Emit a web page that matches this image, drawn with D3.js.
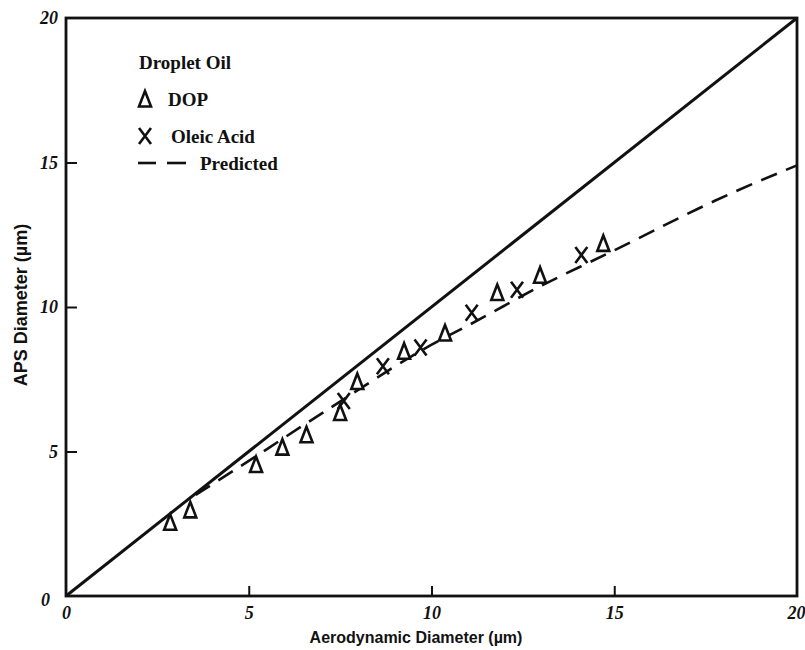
<!DOCTYPE html>
<html>
<head>
<meta charset="utf-8">
<script src="https://cdn.jsdelivr.net/npm/d3@7"></script>
<style>
  html, body { margin: 0; padding: 0; background: #fff; }
  svg { display: block; }
  text { font-family: "Liberation Serif", "DejaVu Serif", serif; fill: #111; }
  .title { font-family: "Liberation Sans", "DejaVu Sans", sans-serif; font-weight: bold; }
</style>
</head>
<body>
<svg id="chart" width="805" height="650"></svg>
<script>
// Measured APS diameter vs aerodynamic diameter (µm)
const dopX = [2.85, 3.4, 5.2, 5.92, 6.58, 7.5, 7.97, 9.25, 10.37, 11.8, 12.97, 14.7];
const dopY = [2.55, 2.98, 4.55, 5.15, 5.58, 6.35, 7.42, 8.47, 9.1, 10.5, 11.1, 12.2];
const oleicX = [7.6, 8.67, 9.7, 11.1, 12.34, 14.1];
const oleicY = [6.75, 7.95, 8.6, 9.8, 10.6, 11.8];
// Predicted response curve
const predX = [3.55, 4.5, 5.5, 6.5, 7.5, 8.8, 10, 11, 12, 13, 14, 15.4, 17.8, 20];
const predY = [3.5, 4.27, 5.08, 5.92, 6.72, 7.8, 8.72, 9.35, 10.05, 10.75, 11.35, 12.2, 13.75, 14.9];
// 1:1 reference line
const unityX = [0, 20];
const unityY = [0, 20];
const xTicks = [0, 5, 10, 15, 20];
const yTicks = [0, 5, 10, 15, 20];

const svg = d3.select("#chart");
const m = { left: 66, right: 797, top: 18, bottom: 596 };
const x = d3.scaleLinear().domain([0, 20]).range([m.left, m.right]);
const y = d3.scaleLinear().domain([0, 20]).range([m.bottom, m.top]);

// Axes with short inward ticks
const xAxis = svg.append("g").attr("transform", `translate(0,${m.bottom})`)
  .call(d3.axisBottom(x).tickValues(xTicks).tickSize(-10).tickPadding(10).tickFormat(d3.format("d")));
const yAxis = svg.append("g").attr("transform", `translate(${m.left},0)`)
  .call(d3.axisLeft(y).tickValues(yTicks).tickSize(-11).tickPadding(8).tickFormat(d3.format("d")));
[xAxis, yAxis].forEach(g => {
  g.select(".domain").remove();
  g.selectAll(".tick line").attr("stroke", "#111").attr("stroke-width", 2);
  g.selectAll(".tick text").style("font-size", "18px").style("font-style", "italic")
    .style("font-weight", "bold").attr("fill", "#111");
});
// End ticks coincide with the frame
xAxis.selectAll(".tick").filter(d => d === 0 || d === 20).select("line").remove();
yAxis.selectAll(".tick").filter(d => d === 0 || d === 20).select("line").remove();
yAxis.selectAll(".tick").filter(d => d === 0).select("text").attr("x", -16).attr("dy", "0.55em");
xAxis.selectAll(".tick").filter(d => d === 20).select("text")
  .attr("text-anchor", "end").attr("x", 805 - x(20));

// Frame
svg.append("rect")
  .attr("x", x(0)).attr("y", y(20))
  .attr("width", x(20) - x(0)).attr("height", y(0) - y(20))
  .attr("fill", "none").attr("stroke", "#111").attr("stroke-width", 2.8);

// Unity line
const line = d3.line().x(d => x(d[0])).y(d => y(d[1]));
svg.append("path")
  .datum(unityX.map((v, i) => [v, unityY[i]]))
  .attr("d", line).attr("fill", "none").attr("stroke", "#111").attr("stroke-width", 3);

// Predicted curve (smoothed)
svg.append("path")
  .datum(predX.map((v, i) => [v, predY[i]]))
  .attr("d", d3.line().curve(d3.curveBasis).x(d => x(d[0])).y(d => y(d[1])))
  .attr("fill", "none").attr("stroke", "#111").attr("stroke-width", 2.6)
  .attr("stroke-dasharray", "17 10");

// Marker shapes
const triPath = "M0,-8 L-6,7.5 L6,7.5 Z";
const crossPath = "M-6,-8 L6,8 M6,-8 L-6,8";

svg.append("g").selectAll("path")
  .data(dopX.map((v, i) => [v, dopY[i]]))
  .join("path")
  .attr("transform", d => `translate(${x(d[0])},${y(d[1])})`)
  .attr("d", triPath).attr("fill", "#fff").attr("stroke", "#111").attr("stroke-width", 2.6);

svg.append("g").selectAll("path")
  .data(oleicX.map((v, i) => [v, oleicY[i]]))
  .join("path")
  .attr("transform", d => `translate(${x(d[0])},${y(d[1])})`)
  .attr("d", crossPath).attr("fill", "none").attr("stroke", "#111").attr("stroke-width", 2.6);

// Legend
const lg = svg.append("g");
const legendFont = t => t.style("font-size", "19px").style("font-weight", "bold");
lg.append("text").attr("x", 139).attr("y", 69).text("Droplet Oil").call(legendFont);
lg.append("path").attr("transform", "translate(145,99)").attr("d", triPath)
  .attr("fill", "none").attr("stroke", "#111").attr("stroke-width", 2.6);
lg.append("text").attr("x", 168).attr("y", 106).text("DOP").call(legendFont);
lg.append("path").attr("transform", "translate(145,136)").attr("d", crossPath)
  .attr("fill", "none").attr("stroke", "#111").attr("stroke-width", 2.6);
lg.append("text").attr("x", 171).attr("y", 143).text("Oleic Acid").call(legendFont);
lg.append("line").attr("x1", 138).attr("x2", 156).attr("y1", 163).attr("y2", 163)
  .attr("stroke", "#111").attr("stroke-width", 2.6);
lg.append("line").attr("x1", 167).attr("x2", 186).attr("y1", 163).attr("y2", 163)
  .attr("stroke", "#111").attr("stroke-width", 2.6);
lg.append("text").attr("x", 200).attr("y", 170).text("Predicted").call(legendFont);

// Axis titles
svg.append("text").attr("class", "title")
  .attr("x", 416).attr("y", 643)
  .attr("text-anchor", "middle").text("Aerodynamic Diameter (µm)")
  .style("font-size", "16px");
svg.append("text").attr("class", "title")
  .attr("transform", "translate(27,305) rotate(-90)")
  .attr("text-anchor", "middle").text("APS Diameter (µm)")
  .style("font-size", "18px");
</script>
</body>
</html>
